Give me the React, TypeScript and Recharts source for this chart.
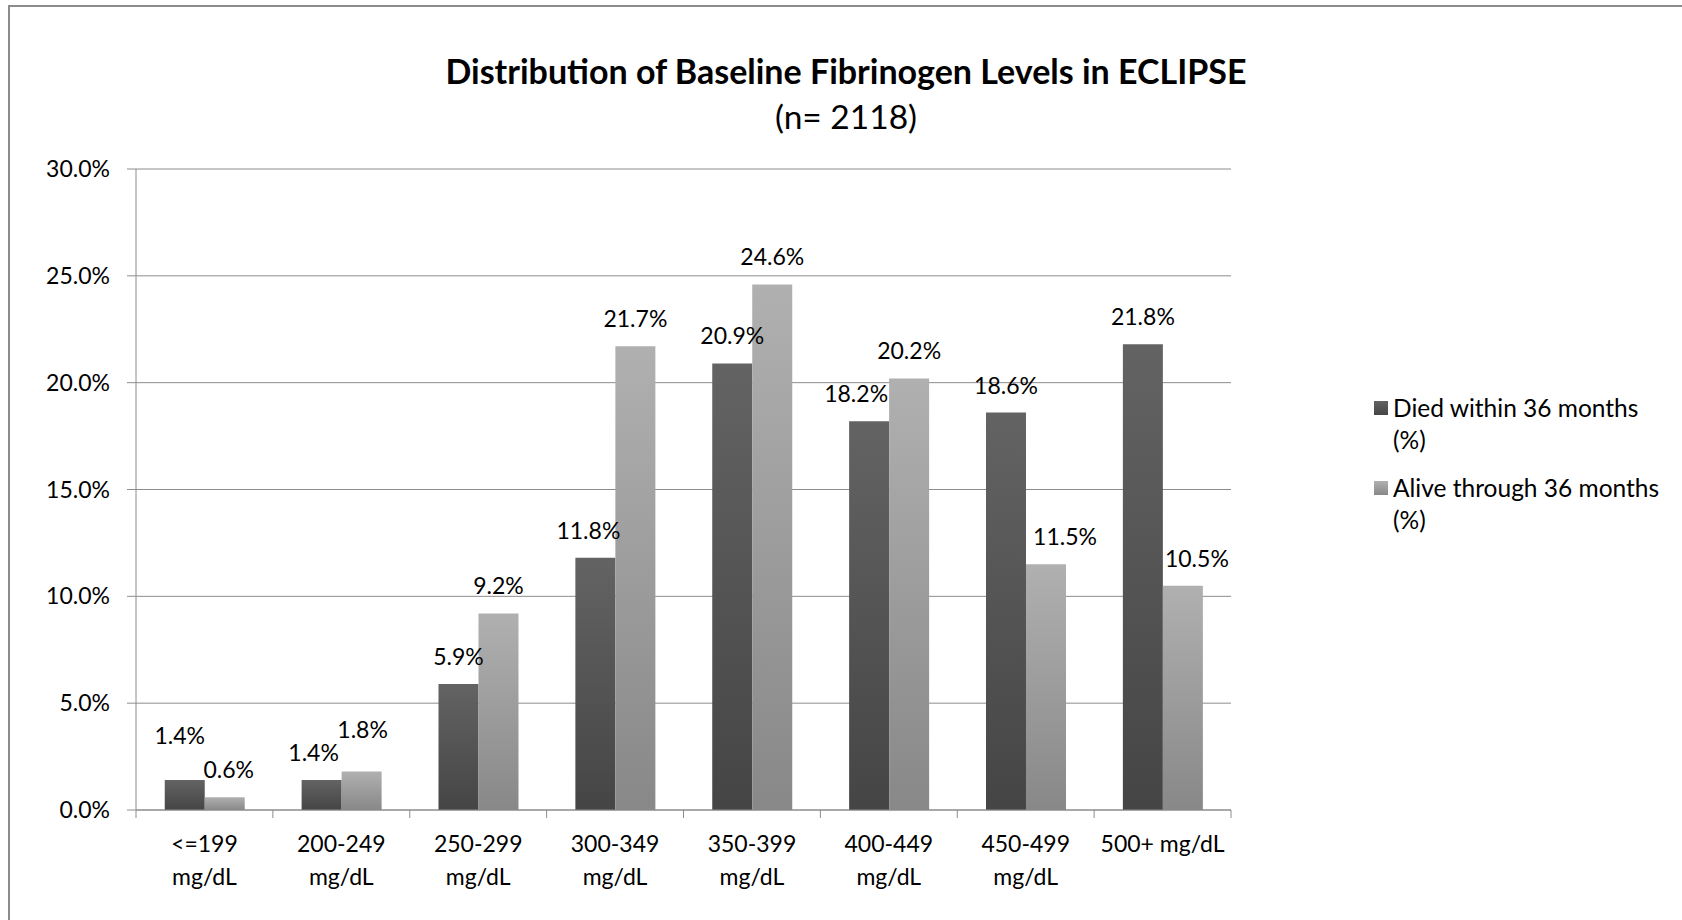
import React from 'react';
import { BarChart, Bar, XAxis, YAxis, CartesianGrid, LabelList, Legend } from 'recharts';

const categories = [
  '<=199\nmg/dL',
  '200-249\nmg/dL',
  '250-299\nmg/dL',
  '300-349\nmg/dL',
  '350-399\nmg/dL',
  '400-449\nmg/dL',
  '450-499\nmg/dL',
  '500+ mg/dL',
];
const diedPct = [1.4, 1.4, 5.9, 11.8, 20.9, 18.2, 18.6, 21.8];
const alivePct = [0.6, 1.8, 9.2, 21.7, 24.6, 20.2, 11.5, 10.5];
const yTicks = [0, 5, 10, 15, 20, 25, 30];
const seriesNames = ['Died within 36 months (%)', 'Alive through 36 months (%)'];

const data = categories.map((name, i) => ({ name, died: diedPct[i], alive: alivePct[i] }));

// label nudges [dx, dy] where Excel moved labels around
const diedNudge: [number, number][] = [[-5, -17], [-8, 0], [0, 0], [-7, 0], [0, 0], [-13, 0], [0, 0], [0, 0]];
const aliveNudge: [number, number][] = [[4, 0], [1, -15], [0, 0], [0, 0], [0, 0], [0, 0], [19, 0], [14, 0]];

const FONT = 'Lato, "Open Sans", sans-serif';
const GRID = '#8c8c8c';
const DARK = ['#636363', '#454545'];
const LIGHT = ['#b0b0b0', '#888888'];

function CategoryTick(props: any) {
  const { x, y, payload, index } = props;
  const half = payload && payload.offset ? payload.offset : 1095 / 16;
  const axisY = y - 8;
  const lines = String(payload.value).split('\n');
  return (
    <g>
      <line x1={x - half} x2={x - half} y1={axisY} y2={axisY + 8} stroke={GRID} />
      {index === categories.length - 1 && (
        <line x1={x + half} x2={x + half} y1={axisY} y2={axisY + 8} stroke={GRID} />
      )}
      <text x={x} y={axisY + 42} textAnchor="middle" fontSize={23} fill="#000" fontFamily={FONT}>
        {lines.map((l, i) => (
          <tspan key={i} x={x} dy={i === 0 ? 0 : 33}>
            {l}
          </tspan>
        ))}
      </text>
    </g>
  );
}

const makeLabel = (nudges: [number, number][]) => (props: any) => {
  const { x, y, width, value, index } = props;
  const [dx, dy] = nudges[index] || [0, 0];
  return (
    <text
      x={Number(x) + Number(width) / 2 + dx}
      y={Number(y) - 19 + dy}
      textAnchor="middle"
      fontSize={23}
      fill="#000"
      fontFamily={FONT}
    >
      {Number(value).toFixed(1)}%
    </text>
  );
};

function LegendContent() {
  const fills = [DARK, LIGHT];
  return (
    <div style={{ fontFamily: FONT, fontSize: 24.5, lineHeight: '32px', color: '#000' }}>
      {seriesNames.map((n, i) => (
        <div key={n} style={{ display: 'flex', alignItems: 'flex-start', marginBottom: 16 }}>
          <span
            style={{
              width: 14,
              height: 14,
              marginTop: 9,
              marginRight: 5,
              flex: 'none',
              background: `linear-gradient(${fills[i][0]}, ${fills[i][1]})`,
            }}
          />
          <span style={{ whiteSpace: 'pre-line' }}>{n.replace(' (%)', '\n(%)')}</span>
        </div>
      ))}
    </div>
  );
}

export default function App() {
  return (
    <div style={{ position: 'fixed', inset: 0, overflow: 'hidden', background: '#fff' }}>
      <div
        style={{
          position: 'absolute',
          left: 8,
          top: 5,
          width: 1720,
          height: 960,
          border: `2px solid ${GRID}`,
          boxSizing: 'border-box',
        }}
      />
      <svg width={1682} height={150} style={{ position: 'absolute', left: 0, top: 0 }}>
        <text x={846} y={84} textAnchor="middle" fontFamily={FONT} fontWeight="bold" fontSize={34} fill="#000">
          Distribution of Baseline Fibrinogen Levels in ECLIPSE
        </text>
        <text x={846} y={129} textAnchor="middle" fontFamily={FONT} fontSize={33.5} fill="#000">
          (n= 2118)
        </text>
      </svg>
      <div style={{ position: 'absolute', left: 0, top: 0 }}>
        <BarChart
          width={1682}
          height={920}
          data={data}
          margin={{ top: 169, right: 451, bottom: 30, left: 36 }}
          barCategoryGap="21%"
          barGap={0}
        >
          <defs>
            <linearGradient id="gradDark" x1="0" y1="0" x2="0" y2="1">
              <stop offset="0%" stopColor={DARK[0]} />
              <stop offset="100%" stopColor={DARK[1]} />
            </linearGradient>
            <linearGradient id="gradLight" x1="0" y1="0" x2="0" y2="1">
              <stop offset="0%" stopColor={LIGHT[0]} />
              <stop offset="100%" stopColor={LIGHT[1]} />
            </linearGradient>
          </defs>
          <CartesianGrid vertical={false} stroke={GRID} />
          <XAxis
            dataKey="name"
            interval={0}
            height={80}
            tickSize={8}
            tickMargin={0}
            tickLine={false}
            axisLine={{ stroke: GRID }}
            tick={<CategoryTick />}
          />
          <YAxis
            width={100}
            domain={[0, 30]}
            ticks={yTicks}
            interval={0}
            tickSize={9}
            tickMargin={17}
            axisLine={{ stroke: GRID }}
            tickLine={{ stroke: GRID }}
            tickFormatter={(v: number) => `${v.toFixed(1)}%`}
            tick={{ fontSize: 23, fill: '#000', fontFamily: FONT }}
          />
          <Legend
            layout="vertical"
            align="center"
            verticalAlign="middle"
            wrapperStyle={{ position: 'absolute', left: 1374, top: 392, width: 300 }}
            content={<LegendContent />}
          />
          <Bar dataKey="died" name={seriesNames[0]} fill="url(#gradDark)" isAnimationActive={false}>
            <LabelList dataKey="died" content={makeLabel(diedNudge)} />
          </Bar>
          <Bar dataKey="alive" name={seriesNames[1]} fill="url(#gradLight)" isAnimationActive={false}>
            <LabelList dataKey="alive" content={makeLabel(aliveNudge)} />
          </Bar>
        </BarChart>
      </div>
    </div>
  );
}
